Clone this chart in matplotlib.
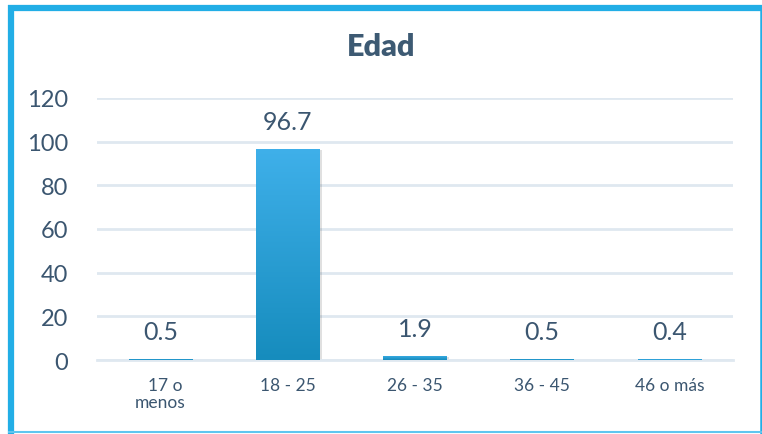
import numpy as np
import matplotlib
matplotlib.use("Agg")
import matplotlib.pyplot as plt
from matplotlib.patches import Rectangle
from matplotlib.lines import Line2D

categorias = ["  17 o\nmenos", "18 - 25", "26 - 35", "36 - 45", "46 o más"]
valores = [0.5, 96.7, 1.9, 0.5, 0.4]
yticks = [0, 20, 40, 60, 80, 100, 120]

texto = "#3b5670"
plt.rcParams['font.family'] = ['Lato', 'DejaVu Sans']

W, H = 762, 435
fig = plt.figure(figsize=(W / 100, H / 100), dpi=100)

# marco azul (grueso arriba/izquierda, fino abajo/derecha)
def linea(x0, y0, x1, y1, lw, c="#22aee6"):
    fig.lines.append(Line2D([x0 / W, x1 / W], [1 - y0 / H, 1 - y1 / H],
                            transform=fig.transFigure, color=c, linewidth=lw,
                            solid_capstyle="butt"))

linea(8, 9, 762, 9, 4.5)
linea(11, 6, 11, 435, 4.5)
linea(760.5, 9, 760.5, 435, 1.8)
linea(8, 432.5, 762, 432.5, 1.5, "#5fc6ef")

ax = fig.add_axes([97 / W, 1 - 361 / H, (733 - 97) / W, (361 - 99) / H])
x = np.arange(len(valores))
bars = ax.bar(x, valores, width=0.5, color="#2a9fd6", zorder=3)

# degradado en cada barra
grad = np.linspace(0, 1, 256).reshape(-1, 1)
cmap = matplotlib.colors.LinearSegmentedColormap.from_list("g", ["#168cbd", "#3fb0ea"])
for b in bars:
    x0, w, h = b.get_x(), b.get_width(), b.get_height()
    hh = max(h, 0.6)
    im = ax.imshow(grad, extent=[x0, x0 + w, 0, hh], origin="lower", cmap=cmap,
                   aspect="auto", zorder=4)
    im.set_clip_path(b)
    ax.add_patch(Rectangle((x0 + 0.015, -0.6), w, hh, color="#000000", alpha=0.12,
                           zorder=2, linewidth=0))

for xi, v in zip(x, valores):
    ax.annotate(f"{v}", (xi, v), xytext=(0, 20), textcoords="offset points",
                ha="center", va="center", fontsize=18, color=texto)

ax.set_xlim(-0.5, len(valores) - 0.5)
ax.set_ylim(0, 120)
ax.set_yticks(yticks)
ax.set_xticks(x)
ax.set_xticklabels(categorias, fontsize=12.5, color=texto, linespacing=1.1)
ax.tick_params(axis="y", labelsize=17, labelcolor=texto, length=0, pad=21)
ax.tick_params(axis="x", length=0, pad=12)
ax.grid(axis="y", color="#dfe8f0", linewidth=2, zorder=0)
for s in ["top", "right", "left"]:
    ax.spines[s].set_visible(False)
ax.spines["bottom"].set_color("#dfe8f0")
ax.spines["bottom"].set_linewidth(2)

fig.text(0.5, 1 - 47 / H, "Edad", ha="center", va="center", fontsize=22,
         fontweight="heavy", color="#3d5a73")

fig.savefig("out.png", dpi=100)
